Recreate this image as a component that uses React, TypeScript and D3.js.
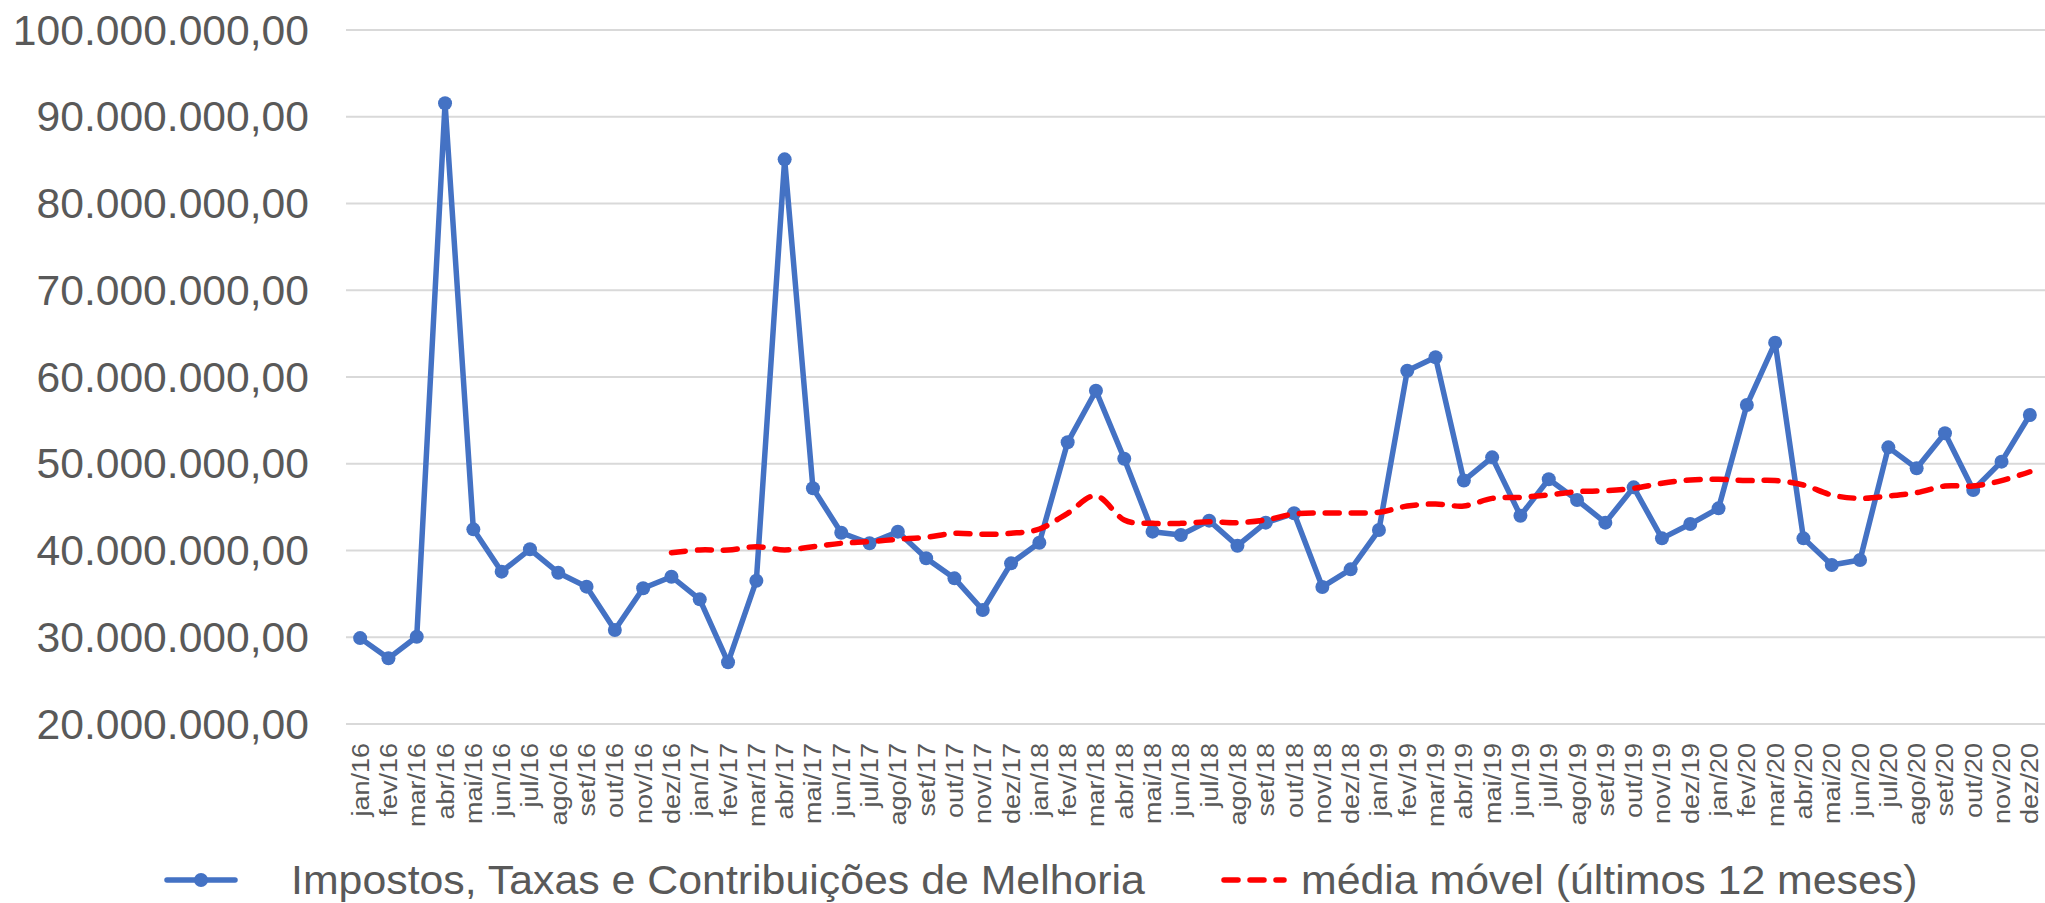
import { useEffect, useRef } from 'react';
import * as d3 from 'd3';

const monthNames = ['jan', 'fev', 'mar', 'abr', 'mai', 'jun', 'jul', 'ago', 'set', 'out', 'nov', 'dez'];
const years = ['16', '17', '18', '19', '20'];
const categories = years.flatMap((y) => monthNames.map((m) => `${m}/${y}`));

// Impostos, Taxas e Contribuições de Melhoria (R$ milhões)
const receita = [
  29.9, 27.57, 30.06, 91.55, 42.44, 37.56, 40.14, 37.44, 35.83, 30.84, 35.64, 36.98,
  34.37, 27.11, 36.52, 85.09, 47.17, 42.05, 40.83, 42.17, 39.1, 36.79, 33.14, 38.52,
  40.9, 52.47, 58.42, 50.58, 42.17, 41.79, 43.44, 40.55, 43.21, 44.29, 35.8, 37.83,
  42.36, 60.72, 62.27, 48.06, 50.74, 44.01, 48.21, 45.82, 43.21, 47.28, 41.4, 43.05,
  44.86, 56.77, 63.96, 41.4, 38.33, 38.9, 51.89, 49.47, 53.51, 46.97, 50.24, 55.62,
];

// média móvel (últimos 12 meses), começa em dez/16
const mediaMovel: (number | null)[] = [
  null, null, null, null, null, null, null, null, null, null, null, 39.75,
  40.06, 40.06, 40.44, 40.06, 40.44, 40.83, 41.02, 41.29, 41.52, 41.98, 41.86, 41.98,
  42.48, 44.29, 46.3, 43.52, 43.13, 43.13, 43.32, 43.21, 43.52, 44.21, 44.33, 44.33,
  44.4, 45.13, 45.36, 45.13, 46.01, 46.13, 46.4, 46.78, 46.89, 47.17, 47.75, 48.13,
  48.21, 48.06, 48.06, 47.55, 46.4, 46.01, 46.28, 46.67, 47.43, 47.43, 48.06, 49.08,
];

const yTicks = [20, 30, 40, 50, 60, 70, 80, 90, 100];

const seriesNames = ['Impostos, Taxas e Contribuições de Melhoria', 'média móvel (últimos 12 meses)'];

const W = 2045;
const H = 903;
const FONT = 'Arial, "Liberation Sans", sans-serif';
const BLUE = '#4472C4';
const RED = '#FF0000';
const TEXT = '#595959';

const ptBR = d3.formatLocale({ decimal: ',', thousands: '.', grouping: [3], currency: ['R$', ''] });
const fmt = ptBR.format(',.2f');

export default function App() {
  const svgRef = useRef<SVGSVGElement>(null);

  useEffect(() => {
    if (!svgRef.current) return;
    const svg = d3.select(svgRef.current);
    svg.selectAll('*').remove();

    const x = d3.scaleBand<string>().domain(categories).range([346, 2044]);
    const cx = (c: string) => (x(c) ?? 0) + x.bandwidth() / 2;
    const y = d3.scaleLinear().domain([20, 100]).range([724, 30]);

    // grid
    svg
      .append('g')
      .selectAll('line')
      .data(yTicks)
      .join('line')
      .attr('x1', 346)
      .attr('x2', W)
      .attr('y1', (d) => y(d))
      .attr('y2', (d) => y(d))
      .attr('stroke', '#D9D9D9')
      .attr('stroke-width', 2);

    // y labels (slightly wide, like the original)
    svg
      .append('g')
      .selectAll('text')
      .data(yTicks)
      .join('text')
      .attr('transform', (d) => `translate(309,${y(d)}) scale(1.015,1)`)
      .attr('dy', '0.35em')
      .attr('text-anchor', 'end')
      .attr('font-family', FONT)
      .attr('font-size', 42)
      .attr('fill', TEXT)
      .text((d) => fmt(d * 1e6));

    // x labels
    svg
      .append('g')
      .selectAll('text')
      .data(categories)
      .join('text')
      .attr('transform', (d) => `translate(${cx(d) + 8.5},743) rotate(-90) scale(1,0.88)`)
      .attr('text-anchor', 'end')
      .attr('font-family', FONT)
      .attr('font-size', 27)
      .attr('fill', TEXT)
      .text((d) => d);

    // main series
    const line = d3
      .line<number>()
      .x((_, i) => cx(categories[i]))
      .y((d) => y(d));

    svg
      .append('path')
      .datum(receita)
      .attr('d', line)
      .attr('fill', 'none')
      .attr('stroke', BLUE)
      .attr('stroke-width', 5.5)
      .attr('stroke-linejoin', 'round');

    svg
      .append('g')
      .selectAll('circle')
      .data(receita)
      .join('circle')
      .attr('cx', (_, i) => cx(categories[i]))
      .attr('cy', (d) => y(d))
      .attr('r', 7)
      .attr('fill', BLUE);

    // moving average
    const maLine = d3
      .line<number | null>()
      .defined((d) => d != null)
      .x((_, i) => cx(categories[i]))
      .y((d) => y(d as number))
      .curve(d3.curveCatmullRom.alpha(0));

    svg
      .append('path')
      .datum(mediaMovel)
      .attr('d', maLine)
      .attr('fill', 'none')
      .attr('stroke', RED)
      .attr('stroke-width', 5.5)
      .attr('stroke-linecap', 'round')
      .attr('stroke-dasharray', '14,12');

    // legend
    const ly = 880;
    const lg = svg.append('g');
    lg.append('line')
      .attr('x1', 167)
      .attr('x2', 235)
      .attr('y1', ly)
      .attr('y2', ly)
      .attr('stroke', BLUE)
      .attr('stroke-width', 5.5)
      .attr('stroke-linecap', 'round');
    lg.append('circle').attr('cx', 201).attr('cy', ly).attr('r', 7).attr('fill', BLUE);
    lg.append('text')
      .attr('transform', `translate(291,${ly}) scale(1.045,1)`)
      .attr('dy', '0.33em')
      .attr('font-family', FONT)
      .attr('font-size', 41)
      .attr('fill', TEXT)
      .text(seriesNames[0]);

    lg.append('line')
      .attr('x1', 1224)
      .attr('x2', 1284)
      .attr('y1', ly)
      .attr('y2', ly)
      .attr('stroke', RED)
      .attr('stroke-width', 5.5)
      .attr('stroke-linecap', 'round')
      .attr('stroke-dasharray', '14,12');
    lg.append('text')
      .attr('transform', `translate(1301,${ly}) scale(1.045,1)`)
      .attr('dy', '0.33em')
      .attr('font-family', FONT)
      .attr('font-size', 41)
      .attr('fill', TEXT)
      .text(seriesNames[1]);
  }, []);

  return (
    <svg
      ref={svgRef}
      width={W}
      height={H}
      style={{ position: 'absolute', left: 0, top: 0, background: '#fff' }}
    />
  );
}
